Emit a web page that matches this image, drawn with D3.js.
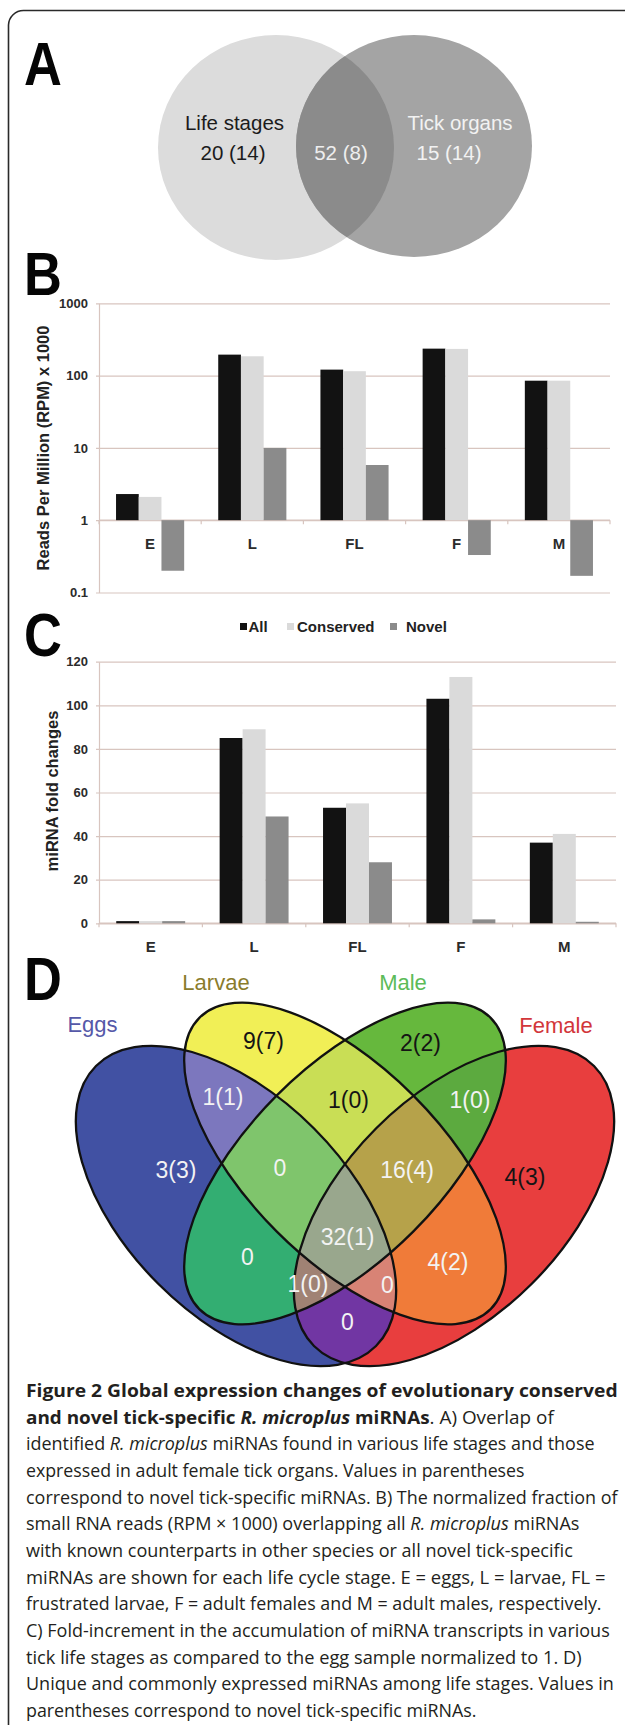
<!DOCTYPE html>
<html><head><meta charset="utf-8">
<script src="https://cdn.jsdelivr.net/npm/d3@7"></script>
<style>body{margin:0;background:#fff}svg{display:block}</style>
</head><body>
<script>
// ---------------- DATA ----------------
const categories = ["E", "L", "FL", "F", "M"];
const series = ["All", "Conserved", "Novel"];
const rpmAll = [2.3, 195, 121, 236, 85];
const rpmConserved = [2.1, 185, 115, 234, 85];
const rpmNovel = [0.2, 10, 5.8, 0.33, 0.17];
const rpmTicks = [0.1, 1, 10, 100, 1000];
const rpmTickLabels = ["0.1", "1", "10", "100", "1000"];
const foldAll = [1, 85, 53, 103, 37];
const foldConserved = [1, 89, 55, 113, 41];
const foldNovel = [1, 49, 28, 1.8, 0.7];
const foldTicks = [0, 20, 40, 60, 80, 100, 120];
const vennASets = ["Life stages", "Tick organs"];
const vennACounts = ["20 (14)", "52 (8)", "15 (14)"];
const vennDSets = ["Eggs", "Larvae", "Male", "Female"];
const vennDRegionSets = ["E","L","M","F","EL","LM","MF","EM","LF","EF","ELM","LMF","EMF","ELF","ELMF"];
const vennDRegionCounts = ["3(3)","9(7)","2(2)","4(3)","1(1)","1(0)","1(0)","0","4(2)","0","0","16(4)","1(0)","0","32(1)"];

// ---------------- SETUP ----------------
const FONT = "'Liberation Sans', Arial, Helvetica, sans-serif";
const svg = d3.select("body").append("svg").attr("width", 625).attr("height", 1725)
  .style("font-family", FONT);
const defs = svg.append("defs");

// frame
svg.append("path").attr("d", "M8.5,1740 V25 A15,15 0 0 1 23.5,10.5 H650")
  .attr("fill", "none").attr("stroke", "#2a2a2a").attr("stroke-width", 1.6);

// panel letters
[["A", 85], ["B", 295], ["C", 655.5], ["D", 1000]].forEach(([t, y]) => {
  svg.append("text").attr("transform", `translate(24,${y}) scale(0.86,1)`)
    .attr("font-size", 61).attr("font-weight", 700).attr("fill", "#050505").text(t);
});

// ---------------- PANEL A ----------------
const aL = {cx: 276, cy: 147.5, rx: 118, ry: 112.5};
const aR = {cx: 414, cy: 146, rx: 118, ry: 111};
function ell(sel, e) { return sel.append("ellipse").attr("cx", e.cx).attr("cy", e.cy).attr("rx", e.rx).attr("ry", e.ry); }
ell(defs.append("clipPath").attr("id", "clipAL"), aL);
ell(svg, aL).attr("fill", "#dcdcdc");
ell(svg, aR).attr("fill", "#a4a4a4");
ell(svg.append("g").attr("clip-path", "url(#clipAL)"), aR).attr("fill", "#8b8b8b");
const aText = [
  {t: vennASets[0], x: 234.5, y: 130, c: "#1b1b1b"},
  {t: vennACounts[0], x: 233, y: 160, c: "#1b1b1b"},
  {t: vennACounts[1], x: 341, y: 160, c: "#eeeeee"},
  {t: vennASets[1], x: 460, y: 130, c: "#f2f2f2"},
  {t: vennACounts[2], x: 449, y: 160, c: "#f2f2f2"}
];
aText.forEach(d => svg.append("text").attr("x", d.x).attr("y", d.y).attr("text-anchor", "middle")
  .attr("font-size", 20.5).attr("fill", d.c).text(d.t));

// ---------------- BAR CHART HELPER ----------------
const barColors = {All: "#121212", Conserved: "#dadada", Novel: "#8b8b8b"};
const gridColor = "#d8c5bf";
function barChart(opt) {
  const g = svg.append("g");
  const x0 = d3.scaleBand().domain(categories).range([opt.left, opt.right]);
  const x1 = d3.scaleBand().domain(series).range([0, x0.bandwidth()]).paddingOuter(0.75);
  const y = opt.y;
  const ax = g.append("g").attr("transform", `translate(${opt.left},0)`)
    .call(d3.axisLeft(y).tickValues(opt.ticks).tickFormat((d, i) => opt.tickLabels[i])
      .tickSize(-(opt.right - opt.left)).tickSizeOuter(0).tickPadding(11));
  ax.select(".domain").attr("stroke", gridColor).attr("stroke-width", 1.2);
  ax.selectAll(".tick line").attr("stroke", gridColor).attr("stroke-width", 1.2).attr("x1", -3);
  ax.selectAll(".tick text").attr("font-size", 13).attr("font-weight", 700).attr("fill", "#2b2b2b")
    .style("font-family", FONT);
  const yb = y(opt.base);
  g.append("line").attr("x1", opt.left).attr("x2", opt.right).attr("y1", yb).attr("y2", yb)
    .attr("stroke", gridColor).attr("stroke-width", 1.4);
  d3.range(categories.length + 1).forEach(i => {
    const xx = opt.left + i * x0.step();
    g.append("line").attr("x1", xx).attr("x2", xx).attr("y1", yb).attr("y2", yb + 4)
      .attr("stroke", gridColor).attr("stroke-width", 1.2);
  });
  const vals = {All: opt.all, Conserved: opt.cons, Novel: opt.nov};
  categories.forEach((c, ci) => {
    series.forEach(s => {
      const v = vals[s][ci];
      const yv = y(v);
      g.append("rect").attr("x", x0(c) + x1(s)).attr("width", x1.bandwidth())
        .attr("y", Math.min(yv, yb)).attr("height", Math.max(Math.abs(yv - yb), 1))
        .attr("fill", barColors[s]);
    });
  });
  const xa = g.append("g").attr("transform", `translate(0,${opt.labelY})`)
    .call(d3.axisBottom(x0).tickSize(0).tickPadding(0));
  xa.select(".domain").remove();
  xa.selectAll(".tick text").attr("dy", 0).attr("y", 0).attr("font-size", 15).attr("font-weight", 700)
    .attr("fill", "#2b2b2b").style("font-family", FONT);
  g.append("text").attr("transform", `translate(${opt.titleX},${opt.titleY}) rotate(-90)`)
    .attr("text-anchor", "middle").attr("dy", "0.35em").attr("font-size", 16.5).attr("font-weight", 700)
    .attr("fill", "#222").text(opt.title);
}

// ---------------- PANEL B ----------------
barChart({
  left: 99, right: 610, base: 1,
  y: d3.scaleLog().domain([0.1, 1000]).range([592.5, 303.3]),
  ticks: rpmTicks, tickLabels: rpmTickLabels,
  all: rpmAll, cons: rpmConserved, nov: rpmNovel,
  labelY: 549, title: "Reads Per Million (RPM) x 1000", titleX: 43, titleY: 448
});

// legend
const legX = [{s: 240, t: 248.5}, {s: 287, t: 297}, {s: 390, t: 406}];
series.forEach((s, i) => {
  svg.append("rect").attr("x", legX[i].s).attr("y", 623).attr("width", 7).attr("height", 7).attr("fill", barColors[s]);
  svg.append("text").attr("x", legX[i].t).attr("y", 632).attr("font-size", 15).attr("font-weight", 700)
    .attr("fill", "#222").text(s);
});

// ---------------- PANEL C ----------------
barChart({
  left: 99, right: 616, base: 0,
  y: d3.scaleLinear().domain([0, 120]).range([923.3, 661.7]),
  ticks: foldTicks, tickLabels: foldTicks.map(String),
  all: foldAll, cons: foldConserved, nov: foldNovel,
  labelY: 952, title: "miRNA fold changes", titleX: 52, titleY: 791
});

// ---------------- PANEL D ----------------
const ellipses = {
  E: {cx: 236, cy: 1206, rx: 198, ry: 110, rot: 45},
  L: {cx: 345, cy: 1163.5, rx: 206, ry: 96.4, rot: 45},
  M: {cx: 345, cy: 1163.5, rx: 206, ry: 96.4, rot: -45},
  F: {cx: 454, cy: 1206, rx: 198, ry: 110, rot: -45}
};
function ellD(sel, k) {
  const e = ellipses[k];
  return sel.append("ellipse").attr("cx", e.cx).attr("cy", e.cy).attr("rx", e.rx).attr("ry", e.ry)
    .attr("transform", `rotate(${e.rot},${e.cx},${e.cy})`);
}
Object.keys(ellipses).forEach(k => ellD(defs.append("clipPath").attr("id", "clip" + k), k));
const regionColor = {
  E: "#4151a3", L: "#f1ef56", M: "#66b83d", F: "#e83e3e",
  EL: "#7c77be", LM: "#c9de55", MF: "#5caa3f", EM: "#33ae72", LF: "#f07b39", EF: "#7136a3",
  ELM: "#7fc56c", LMF: "#b6a24a", EMF: "#a08274", ELF: "#d88375", ELMF: "#99a78d"
};
const regionPos = {
  E: [176, 1170], L: [263.5, 1040.5], M: [420.5, 1043], F: [525, 1177],
  EL: [223, 1097], LM: [348.5, 1100], MF: [470, 1100], EM: [247.5, 1256.5], LF: [448, 1261.5],
  EF: [347.5, 1321.5], ELM: [280, 1168], LMF: [407, 1170], EMF: [308, 1284], ELF: [387.5, 1285],
  ELMF: [347.5, 1236.5]
};
const darkLabels = new Set(["L", "M", "F", "LM"]);
const vg = svg.append("g");
vennDRegionSets.map((s, i) => ({s, i})).sort((a, b) => a.s.length - b.s.length).forEach(({s}) => {
  let g = vg;
  const arr = s.split("");
  for (let j = 0; j < arr.length - 1; j++) g = g.append("g").attr("clip-path", `url(#clip${arr[j]})`);
  ellD(g, arr[arr.length - 1]).attr("fill", regionColor[s]);
});
Object.keys(ellipses).forEach(k => ellD(vg, k).attr("fill", "none").attr("stroke", "#111").attr("stroke-width", 2.3));
vennDRegionSets.forEach((s, i) => {
  const p = regionPos[s];
  vg.append("text").attr("x", p[0]).attr("y", p[1]).attr("dy", "0.36em").attr("text-anchor", "middle")
    .attr("font-size", 23).attr("fill", darkLabels.has(s) ? "#141414" : "#f3f3f3").text(vennDRegionCounts[i]);
});
const setLabelPos = [[92.5, 1024, "#5558a8"], [216, 982, "#8a7c2c"], [403, 982, "#5cbb58"], [556, 1025, "#d2363a"]];
vennDSets.forEach((t, i) => {
  svg.append("text").attr("x", setLabelPos[i][0]).attr("y", setLabelPos[i][1]).attr("dy", "0.36em")
    .attr("text-anchor", "middle").attr("font-size", 22).attr("fill", setLabelPos[i][2]).text(t);
});

// ---------------- CAPTION ----------------
const captionLines = [
  [["Figure 2 Global expression changes of evolutionary conserved", "b"]],
  [["and novel tick-specific ", "b"], ["R. microplus", "bi"], [" miRNAs", "b"], [". A) Overlap of", "r"]],
  [["identified ", "r"], ["R. microplus", "i"], [" miRNAs found in various life stages and those", "r"]],
  [["expressed in adult female tick organs. Values in parentheses", "r"]],
  [["correspond to novel tick-specific miRNAs. B) The normalized fraction of", "r"]],
  [["small RNA reads (RPM \u00d7 1000) overlapping all ", "r"], ["R. microplus", "i"], [" miRNAs", "r"]],
  [["with known counterparts in other species or all novel tick-specific", "r"]],
  [["miRNAs are shown for each life cycle stage. E = eggs, L = larvae, FL =", "r"]],
  [["frustrated larvae, F = adult females and M = adult males, respectively.", "r"]],
  [["C) Fold-increment in the accumulation of miRNA transcripts in various", "r"]],
  [["tick life stages as compared to the egg sample normalized to 1. D)", "r"]],
  [["Unique and commonly expressed miRNAs among life stages. Values in", "r"]],
  [["parentheses correspond to novel tick-specific miRNAs.", "r"]]
];
const captionRight = [618, 554, 595, 525, 618, 580, 573, 606, 602, 610, 582, 614, 477];
captionLines.forEach((segs, i) => {
  const t = svg.append("text").attr("x", 0).attr("y", 0)
    .style("font-family", "'Open Sans', 'Noto Sans', sans-serif").attr("font-size", 18.5).attr("fill", "#231f20");
  segs.forEach(([txt, st]) => {
    t.append("tspan").text(txt)
      .attr("font-weight", st.includes("b") ? 700 : 400)
      .attr("font-style", st.includes("i") ? "italic" : "normal");
  });
  const w = t.node().getComputedTextLength();
  const k = (captionRight[i] - 26) / w;
  t.attr("transform", `translate(26,${1397 + i * 26.65}) scale(${k},1)`);
});
</script>
</body></html>
